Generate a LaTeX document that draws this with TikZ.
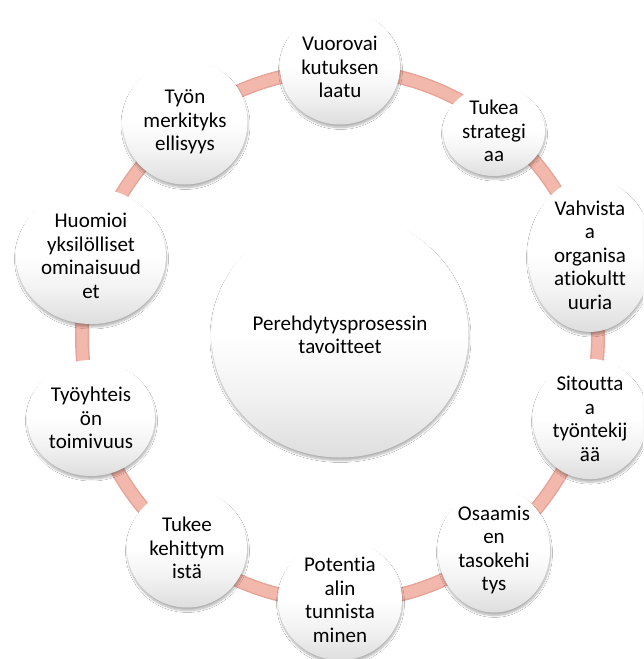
\documentclass[tikz,border=0pt]{standalone}
\usepackage{fontspec}
\setmainfont[Ligatures=NoCommon]{Carlito}
\usetikzlibrary{shapes.geometric,shadows.blur}
\definecolor{ringfill}{RGB}{243,184,172}
\definecolor{ringedge}{RGB}{232,164,152}
\pgfdeclareverticalshading{bubshade}{100bp}{color(0bp)=(black!13); color(25bp)=(black!13); color(38bp)=(black!5); color(50bp)=(white); color(100bp)=(white)}
\tikzset{
  bubble/.style={ellipse, inner sep=0pt, shading=bubshade,
    blur shadow={shadow xshift=0.5pt, shadow yshift=-3pt, shadow blur steps=10, shadow opacity=30},
    align=center, font=\fontsize{21}{23.5}\selectfont, text=black},
  ringline/.style={line width=#1}
}
\begin{document}
\begin{tikzpicture}[x=1pt,y=-1pt]
\useasboundingbox (0,0) rectangle (643,659);
\clip (0,0) rectangle (643,659);
\fill[white] (0,0) rectangle (643,659);
\coordinate (c) at (340,336);
\draw[ringedge, ringline=14pt] (c) ellipse [x radius=258, y radius=266];
\draw[ringfill, ringline=11pt] (c) ellipse [x radius=258, y radius=266];

\node[bubble, minimum width=257pt, minimum height=245pt] (hub) at (340,335) {Perehdytysprosessin\\tavoitteet};

\node[bubble, minimum width=120pt, minimum height=115pt] (s1) at (340,67) {Vuorovai\\kutuksen\\laatu};
\node[bubble, minimum width=102pt, minimum height=90pt] (s2) at (494,131) {Tukea\\strategi\\aa};
\node[bubble, minimum width=124pt, minimum height=116pt] (s3) at (590,255) {Vahvista\\a\\organisa\\atiokultt\\uuria};
\node[bubble, minimum width=114pt, minimum height=107pt] (s4) at (590,419) {Sitoutta\\a\\työntekij\\ää};
\node[bubble, minimum width=112pt, minimum height=96pt] (s5) at (494,550) {Osaamis\\en\\tasokehi\\tys};
\node[bubble, minimum width=124pt, minimum height=115pt] (s6) at (340,600) {Potentia\\alin\\tunnista\\minen};
\node[bubble, minimum width=120pt, minimum height=119pt] (s7) at (187,548) {Tukee\\kehittym\\istä};
\node[bubble, minimum width=128pt, minimum height=116pt] (s8) at (91,418) {Työyhteis\\ön\\toimivuus};
\node[bubble, minimum width=150pt, minimum height=136pt] (s9) at (91,256) {Huomioi\\yksilölliset\\ominaisuud\\et};
\node[bubble, minimum width=125pt, minimum height=125pt] (s10) at (185,122) {Työn\\merkityks\\ellisyys};
\end{tikzpicture}
\end{document}
